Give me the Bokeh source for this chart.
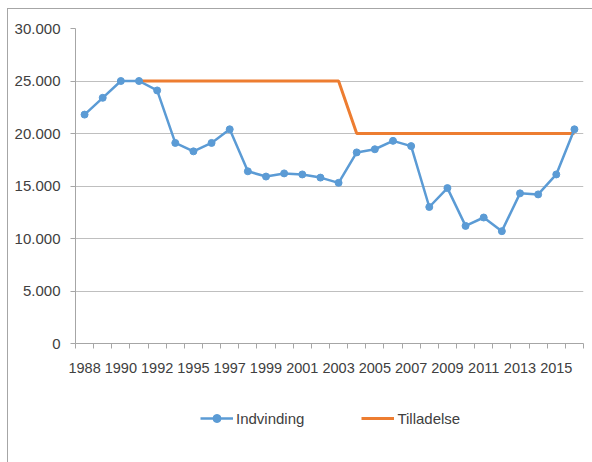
import numpy as np
from bokeh.plotting import figure
from bokeh.layouts import column
from bokeh.models import FixedTicker, Legend, LegendItem, Range1d, ColumnDataSource
from bokeh.embed import file_html
from bokeh.resources import INLINE

years = ["1988", "1989", "1990", "1991", "1992", "1993", "1995", "1996", "1997", "1998",
         "1999", "2000", "2001", "2002", "2003", "2004", "2005", "2006", "2007", "2008",
         "2009", "2010", "2011", "2012", "2013", "2014", "2015", "2016"]
indvinding = [21800, 23400, 25000, 25000, 24100, 19100, 18300, 19100, 20400, 16400,
              15900, 16200, 16100, 15800, 15300, 18200, 18500, 19300, 18800, 13000,
              14800, 11200, 12000, 10700, 14300, 14200, 16100, 20400]
tilladelse = [None, None, None, 25000, 25000, 25000, 25000, 25000, 25000, 25000,
              25000, 25000, 25000, 25000, 25000, 20000, 20000, 20000, 20000, 20000,
              20000, 20000, 20000, 20000, 20000, 20000, 20000, 20000]
y_ticks = [0, 5000, 10000, 15000, 20000, 25000, 30000]
y_tick_labels = ["0", "5.000", "10.000", "15.000", "20.000", "25.000", "30.000"]
series_names = ["Indvinding", "Tilladelse"]

FONT = "Liberation Sans"
TXT = "#404040"
BLUE = "#5B9BD5"
ORANGE = "#ED7D31"
BORDER = "#a6a6a6"

xs = list(range(len(years)))
til = [np.nan if v is None else v for v in tilladelse]

# ---- main chart ----
p = figure(width=592, height=388, output_backend="svg", toolbar_location=None,
           x_range=Range1d(-0.5, len(years) - 0.5), y_range=Range1d(0, 30000),
           min_border_left=75, min_border_right=9, min_border_top=28, min_border_bottom=45)
p.outline_line_color = None
p.border_fill_color = None
p.background_fill_color = "white"
p.styles = {"background": (f"linear-gradient({BORDER},{BORDER}) 7px 8px / 1px 100% no-repeat, "
                           f"linear-gradient({BORDER},{BORDER}) 7px 8px / 100% 1px no-repeat, white")}

p.line(xs, til, line_color=ORANGE, line_width=3)
p.line(xs, indvinding, line_color=BLUE, line_width=2.5)
p.scatter(xs, indvinding, size=7, fill_color=BLUE, line_color=BLUE)

p.xaxis.ticker = FixedTicker(ticks=xs[::2],
                             minor_ticks=[i - 0.5 for i in range(len(years) + 1)])
p.xaxis.major_label_overrides = {i: years[i] for i in xs[::2]}
p.xaxis.major_tick_out = 0
p.xaxis.major_tick_in = 0
p.xaxis.minor_tick_out = 5
p.xaxis.minor_tick_in = 0
p.xaxis.minor_tick_line_color = BORDER
p.xaxis.axis_line_color = BORDER
p.xaxis.major_label_standoff = 14
p.xaxis.major_label_text_font = FONT
p.xaxis.major_label_text_font_size = "14.5px"
p.xaxis.major_label_text_color = TXT
p.xgrid.grid_line_color = None

p.yaxis.ticker = FixedTicker(ticks=y_ticks, minor_ticks=[])
p.yaxis.major_label_overrides = {t: l for t, l in zip(y_ticks, y_tick_labels)}
p.yaxis.major_tick_out = 5
p.yaxis.major_tick_in = 0
p.yaxis.major_tick_line_color = BORDER
p.yaxis.axis_line_color = BORDER
p.yaxis.major_label_standoff = 10
p.yaxis.major_label_text_font = FONT
p.yaxis.major_label_text_font_size = "15px"
p.yaxis.major_label_text_color = TXT
p.ygrid.grid_line_color = "#bfbfbf"
p.ygrid.grid_line_width = 1

# ---- legend strip ----
q = figure(width=592, height=74, output_backend="svg", toolbar_location=None,
           x_range=Range1d(0, 1), y_range=Range1d(0, 1),
           min_border_left=0, min_border_right=0, min_border_top=0, min_border_bottom=0)
q.axis.visible = False
q.grid.grid_line_color = None
q.outline_line_color = None
q.border_fill_color = None
q.background_fill_color = None
q.styles = {"background": (f"linear-gradient({BORDER},{BORDER}) 7px 0px / 1px 100% no-repeat, white")}

proxy = ColumnDataSource(data=dict(x=[np.nan], y=[np.nan]))
l_ind = q.line("x", "y", source=proxy, line_color=BLUE, line_width=2.5)
s_ind = q.scatter("x", "y", source=proxy, size=5, fill_color=BLUE, line_color=BLUE)
l_til = q.line("x", "y", source=proxy, line_color=ORANGE, line_width=3)

legend = Legend(items=[LegendItem(label=series_names[0], renderers=[l_ind, s_ind]),
                       LegendItem(label=series_names[1], renderers=[l_til])],
                location=(125, 34), orientation="horizontal",
                border_line_color=None, background_fill_alpha=0,
                padding=0, margin=0, spacing=57, glyph_width=33, glyph_height=20,
                label_height=20, label_standoff=3,
                label_text_font=FONT, label_text_font_size="15px",
                label_text_color=TXT)
q.add_layout(legend, "center")

layout = column(p, q, spacing=0)
open("out.html", "w").write(file_html(layout, INLINE))
